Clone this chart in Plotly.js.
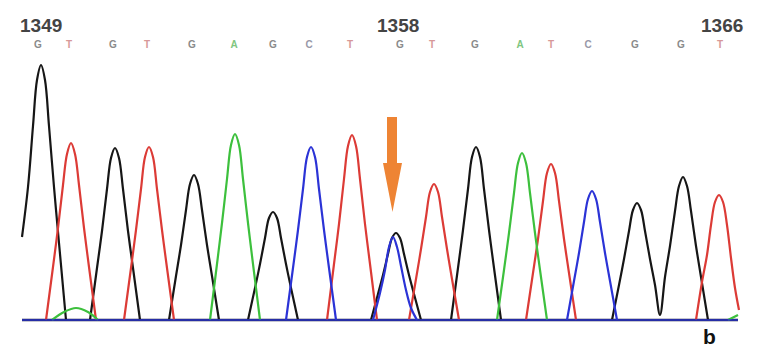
<!DOCTYPE html>
<html>
<head>
<meta charset="utf-8">
<script src="https://cdn.plot.ly/plotly-3.0.1.min.js"></script>
<style>html,body{margin:0;padding:0;background:#fff;}#chart{width:764px;height:352px;}</style>
</head>
<body>
<div id="chart"></div>
<script>
// Called bases and their positions (scan units)
const bases = ['G','T','G','T','G','A','G','C','T','G','T','G','A','T','C','G','G','T'];
const baseScan = [38,69,113,147,192,234,273,309,350,400,432,475,520,551,588,635,681,720];
const positionLabels = ['1349','1358','1366'];
const positionLabelIndex = [0,9,17];
const scanRange = [22,738];

// Channel G (black) trace samples (null separates peaks)
const gX = [22,28,33,37,41,45,49,54,59,66,null,
            90,97,102,107,111,115,119,123,128,133,140,null,
            169,176,181,186,190,194,198,202,207,212,219,null,
            248,255,260,265,269,273,277,281,286,291,298,null,
            371,378,383,388,392,396,400,404,409,414,421,null,
            451,458,463,468,472,476,480,484,489,494,501,null,
            612,619,624,629,633,637,641,645,650,655,660,665,670,675,679,683,687,691,696,701,708];
const gY = [83,133,194,240,255,240,194,133,77,0,null,
            0,52,89,131,162,172,162,131,89,52,0,null,
            0,44,75,110,136,145,136,110,75,44,0,null,
            0,32,56,82,102,108,102,82,56,32,0,null,
            0,26,45,66,82,87,82,66,45,26,0,null,
            0,52,90,131,163,173,163,131,90,52,0,null,
            0,35,61,89,110,117,110,89,61,35,5,43,74,109,134,143,134,109,74,43,0];

// Channel T (red)
const tX = [46,53,58,63,67,71,75,79,84,89,96,null,
            124,131,136,141,145,149,153,157,162,167,174,null,
            327,334,339,344,348,352,356,360,365,370,377,null,
            409,416,421,426,430,434,438,442,447,452,459,null,
            526,533,538,543,547,551,555,559,564,569,576,null,
            696,702,707,711,715,719,723,727,731,735,739];
const tY = [0,53,92,135,166,177,166,135,92,53,0,null,
            0,52,90,131,163,173,163,131,90,52,0,null,
            0,56,96,141,174,185,174,141,96,56,0,null,
            0,41,71,103,128,136,128,103,71,41,0,null,
            0,47,81,119,147,156,147,119,81,47,0,null,
            0,38,65,95,118,125,118,95,62,32,10];

// Channel A (green)
const aX = [52,64,76,88,98,null,
            210,217,222,227,231,235,239,243,248,253,260,null,
            497,504,509,514,518,522,526,530,535,540,547,null,
            728,738];
const aY = [0,8,12,8,0,null,
            0,56,97,141,175,186,175,141,97,56,0,null,
            0,50,87,127,157,167,157,127,87,50,0,null,
            0,5];

// Channel C (blue)
const cX = [286,293,298,303,307,311,315,319,324,329,336,null,
            373,380,385,389,393,397,401,406,411,417,null,
            567,574,579,584,588,592,596,600,605,610,617];
const cY = [0,52,90,131,163,173,163,131,90,52,0,null,
            0,27,50,73,83,73,54,30,12,0,null,
            0,39,67,98,121,129,121,98,67,39,0];

const baseColors = {G:'#8a8a8a', T:'#d79898', A:'#80c680', C:'#9898a8'};
const labelY = 275;

function channel(x, y, color, name){
  return {x:x, y:y, type:'scatter', mode:'lines', name:name, connectgaps:false,
    line:{color:color, width:2.2, shape:'spline', smoothing:1},
    hoverinfo:'skip', showlegend:false};
}

const traces = [
  {x:scanRange, y:[0,0], type:'scatter', mode:'lines', line:{color:'#1c1c40', width:2.5}, hoverinfo:'skip', showlegend:false},
  channel(gX, gY, '#161616', 'G'),
  channel(tX, tY, '#dc3b36', 'T'),
  channel(aX, aY, '#3dc03d', 'A'),
  channel(cX, cY, '#2b33d6', 'C'),
  {x:scanRange, y:[0,0], type:'scatter', mode:'lines', line:{color:'#2a34c8', width:1.5}, hoverinfo:'skip', showlegend:false},
  {x:baseScan, y:bases.map(()=>labelY), text:bases.map(b=>'<b>'+b+'</b>'), type:'scatter', mode:'text',
   textposition:'middle center', hoverinfo:'skip', showlegend:false,
   textfont:{family:'Liberation Sans, Arial, sans-serif', size:10, color:bases.map(b=>baseColors[b])}}
];

const labelShift = [3,-2,2];
const annotations = positionLabels.map((t,i)=>({
  x: baseScan[positionLabelIndex[i]] + labelShift[i], y: 295, xref:'x', yref:'y',
  text:'<b>'+t+'</b>', showarrow:false, xanchor:'center', yanchor:'middle',
  font:{family:'Liberation Sans, Arial, sans-serif', size:19, color:'#444'}
}));
annotations.push({x:709, y:-16, xref:'x', yref:'y', text:'<b>b</b>', showarrow:false,
  xanchor:'center', yanchor:'middle', font:{family:'Liberation Sans, Arial, sans-serif', size:21, color:'#111'}});

const layout = {
  width:764, height:352,
  margin:{l:0, r:0, t:0, b:0},
  paper_bgcolor:'#fff', plot_bgcolor:'#fff',
  xaxis:{range:[0,764], visible:false, fixedrange:true},
  yaxis:{range:[-32,320], visible:false, fixedrange:true},
  annotations:annotations,
  shapes:[{type:'path', xref:'x', yref:'y',
    path:'M387,203 L397,203 L397,157 L402,157 L392.5,108 L383,157 L387,157 Z',
    fillcolor:'#ee8434', line:{width:0}}]
};

Plotly.newPlot('chart', traces, layout, {displayModeBar:false, staticPlot:true});
</script>
</body>
</html>
